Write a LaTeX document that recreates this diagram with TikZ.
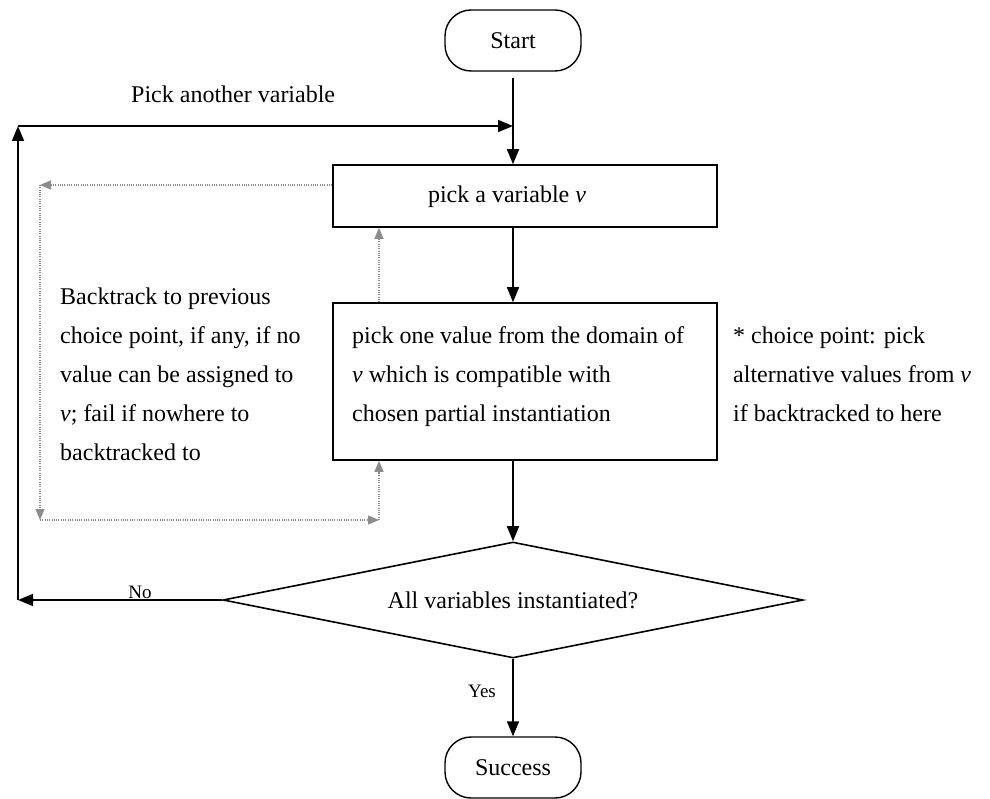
\documentclass[tikz,border=0pt]{standalone}
\usepackage{fontspec}
\setmainfont{Liberation Serif}
\usetikzlibrary{arrows.meta,shapes.geometric}
\begin{document}
\begin{tikzpicture}[x=1pt,y=-1pt,
  flow/.style={line width=1.6pt,-{Triangle[length=15pt,width=12pt]}},
  back/.style={draw=black!45,line width=1.1pt,dash pattern=on 1pt off 1.3pt,
    -{Triangle[length=11pt,width=9pt,fill=black!45]}},
  terminal/.style={draw,line width=1.4pt,rounded corners=26pt,minimum width=136pt,
    minimum height=61pt,inner sep=0pt,txt},
  procbox/.style={draw,line width=1.6pt,inner sep=0pt},
  decision/.style={draw,line width=1.6pt,diamond,inner sep=0pt,aspect=5,
    minimum width=580pt,minimum height=116pt,txt},
  txt/.style={font=\fontsize{24}{39}\selectfont},
  small/.style={font=\fontsize{19}{21}\selectfont}]
\useasboundingbox (0,0) rectangle (990,799);

% terminals
\node[terminal] (start) at (513,40.5) {Start};
\node[terminal] (succ) at (513,767.5) {Success};

% process boxes
\node[procbox,minimum width=384pt,minimum height=62pt] (pick) at (525,196) {};
\node[txt,anchor=base] (pickText) at (507,203) {pick a variable \textit{v}};
\node[procbox,minimum width=384pt,minimum height=157pt] (val) at (525,381.5) {};
% multi-line notes: the base anchor sits on the last line
\node[txt,anchor=base west,align=left,inner sep=0pt] (valText) at (352,421)
  {pick one value from the domain of\\ \textit{v} which is compatible with\\ chosen partial instantiation};

% decision
\node[decision] (diam) at (513,600) {\raisebox{-6pt}{All variables instantiated?}};

% side notes
\node[txt,anchor=base west,inner sep=0pt] (pickAnother) at (131,103) {Pick another variable};
\node[txt,anchor=base west,align=left,inner sep=0pt] (backNote) at (60,460)
  {Backtrack to previous\\ choice point, if any, if no\\ value can be assigned to\\
   \textit{v}; fail if nowhere to\\ backtracked to};
\node[txt,anchor=base west,align=left,inner sep=0pt] (choiceNote) at (733,421)
  {* choice point: pick\\ alternative values from \textit{v}\\ if backtracked to here};
\node[small,anchor=base,inner sep=0pt] (noLbl) at (140,598) {No};
\node[small,anchor=base,inner sep=0pt] (yesLbl) at (482,697) {Yes};

% loop-back corners
\coordinate (cornerLow) at (18,600);
\coordinate (cornerHigh) at (18,126);
\coordinate (joinPt) at (513,126);
\coordinate (bA) at (40,185);
\coordinate (bB) at (40,520);
\coordinate (bC) at (379,520);

% main flow
\draw[flow,shorten <=6pt] (start.south) -- (start.south |- pick.north);
\draw[flow] (pick.south -| joinPt) -- (val.north -| joinPt);
\draw[flow] (val.south -| joinPt) -- (diam.north);
\draw[flow] (diam.south) -- (succ.north);

% "No" branch back to the top
\draw[flow] (diam.west) -- (cornerLow);
\draw[flow] (cornerLow) -- (cornerHigh);
\draw[flow] (cornerHigh) -- (joinPt);

% backtracking path
\draw[back] ([yshift=11pt]pick.west) -- (bA);
\draw[back] (bA) -- (bB);
\draw[back] (bB) -- (bC);
\draw[back] (bC) -- (bC |- val.south);
\draw[back] (bC |- val.north) -- (bC |- pick.south);
\end{tikzpicture}
\end{document}
